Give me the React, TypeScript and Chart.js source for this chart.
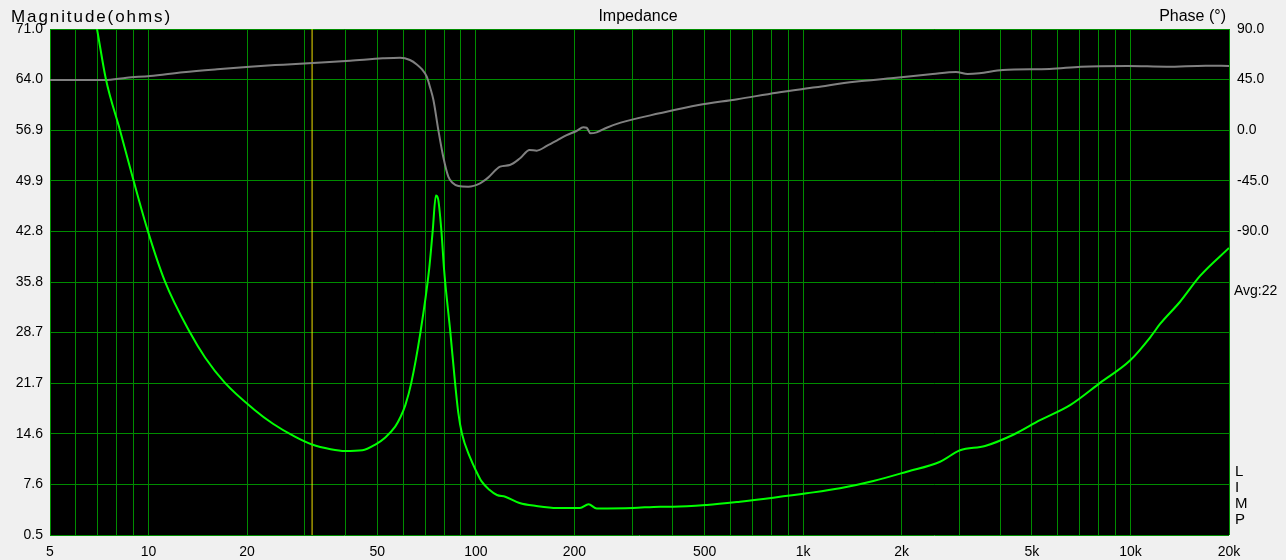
import React, { useEffect, useRef } from 'react';
import { Chart, registerables } from 'chart.js';

Chart.register(...registerables);

// Impedance magnitude (ohms) vs frequency (Hz)
const magFreq = [
  6.7, 6.96, 7.41, 8.18, 8.96, 9.96, 11.23, 13.39, 14.9, 17.12, 21.0, 24.0, 28.0, 31.6, 36, 39.8, 45, 49.3,
  52.9, 56.7, 58.8, 60.9, 63.5, 67.7, 71.95, 73.8, 75.5, 76.7, 78.5, 80.0, 83.6, 86.4, 88.4, 90.7, 96, 100,
  104, 110, 116, 123, 136, 153, 177, 208, 221, 234, 302, 366, 401, 508, 641, 811, 1025, 1296, 1639, 2073,
  2620, 3015, 3595, 4400, 5293, 6540, 8075, 9966, 11560, 12315, 14174, 16317, 20000,
];
const magOhms = [
  75, 71.0, 64.0, 56.9, 50.2, 42.8, 35.8, 28.7, 25.2, 21.7, 18.0, 16.0, 14.2, 13.1, 12.45, 12.2, 12.3, 13.1,
  14.1, 15.6, 16.9, 18.6, 21.7, 28.7, 37.4, 42.8, 47.8, 47.3, 42.8, 37.4, 28.7, 21.7, 17.5, 14.6, 11.3, 9.5,
  8.0, 6.8, 6.07, 5.84, 4.96, 4.54, 4.26, 4.26, 4.78, 4.2, 4.26, 4.45, 4.44, 4.68, 5.14, 5.7, 6.31, 7.01, 8.02, 9.32,
  10.71, 12.3, 12.9, 14.5, 16.5, 18.6, 21.7, 24.8, 28.2, 29.9, 33.0, 36.6, 40.5,
];

// Phase (degrees) vs frequency (Hz)
const phaseFreq = [
  5, 7.36, 8.58, 10.1, 12.75, 16.2, 20.4, 25.8, 32.7, 41.3, 52.0, 58.7, 62.9, 66, 68.5, 70.8, 72.5, 74.2,
  76.8, 79.5, 82.4, 85, 88.4, 94.8, 103, 109, 118.6, 127, 136.5, 146, 153.5, 164.7, 176.6, 189.5, 203, 213,
  218, 224, 234, 251, 277, 364, 479, 630, 830, 1092, 1436, 1890, 2487, 2932, 3182, 3455, 4074, 5664, 7054,
  9800, 12900, 16970, 20000,
];
const phaseDeg = [
  44.6, 44.6, 46.7, 48.2, 51.5, 54.2, 56.5, 58.3, 60.0, 61.8, 63.9, 64.5, 62.4, 58.5, 54, 47.6, 38, 26.9,
  0.2, -23.6, -41.3, -47, -49.6, -50.2, -47.2, -42.2, -32.4, -30.9, -25.0, -17.6, -18.2, -14.0, -9.3, -4.3, -0.7, 2.6,
  2.2, -2.8, -1.9, 2.2, 6.7, 15.0, 22.4, 27.5, 33.4, 38.2, 43.1, 46.4, 50.0, 51.8, 50.0, 50.6, 53.5, 54.4, 56.5,
  57.1, 56.5, 57.4, 57.1,
];

const markerFreq = 31.6;

const xTickValues = [
  5, 6, 7, 8, 9, 10, 20, 30, 40, 50, 60, 70, 80, 90, 100, 200, 300, 400, 500, 600, 700, 800, 900,
  1000, 2000, 3000, 4000, 5000, 6000, 7000, 8000, 9000, 10000, 20000,
];
const xTickLabels: Record<number, string> = {
  5: '5', 10: '10', 20: '20', 50: '50', 100: '100', 200: '200', 500: '500',
  1000: '1k', 2000: '2k', 5000: '5k', 10000: '10k', 20000: '20k',
};
const magTickValues = [0.5, 7.55, 14.6, 21.65, 28.7, 35.75, 42.8, 49.85, 56.9, 63.95, 71.0];
const magTickLabels = ['0.5', '7.6', '14.6', '21.7', '28.7', '35.8', '42.8', '49.9', '56.9', '64.0', '71.0'];
const phaseTickValues = [90, 45, 0, -45, -90];
const phaseTickLabels = ['90.0', '45.0', '0.0', '-45.0', '-90.0'];

const FONT = '"Liberation Sans", Arial, sans-serif';
const GRID = '#008c00';

export default function App() {
  const ref = useRef<HTMLCanvasElement | null>(null);

  useEffect(() => {
    document.body.style.margin = '0';
    const canvas = ref.current;
    if (!canvas) return;

    const bgPlugin = {
      id: 'bg',
      beforeDraw(chart: any) {
        const { ctx, chartArea } = chart;
        ctx.save();
        ctx.fillStyle = '#f0f0f0';
        ctx.fillRect(0, 0, chart.width, chart.height);
        ctx.fillStyle = '#000000';
        ctx.fillRect(chartArea.left, chartArea.top, chartArea.right - chartArea.left, chartArea.bottom - chartArea.top);
        ctx.restore();
      },
    };

    const textPlugin = {
      id: 'texts',
      afterDraw(chart: any) {
        const { ctx } = chart;
        ctx.save();
        ctx.fillStyle = '#000';
        ctx.textBaseline = 'middle';
        ctx.font = `17px ${FONT}`;
        const mag = 'Magnitude(ohms)';
        const w = ctx.measureText(mag).width;
        const sp = Math.max(0, (161 - w) / mag.length);
        (ctx as any).letterSpacing = `${sp}px`;
        ctx.textAlign = 'left';
        ctx.fillText(mag, 11, 17);
        (ctx as any).letterSpacing = '0px';
        ctx.font = `16px ${FONT}`;
        ctx.textAlign = 'center';
        ctx.fillText('Impedance', 638, 17);
        ctx.textAlign = 'right';
        ctx.fillText('Phase (°)', 1226, 17);
        ctx.font = `14px ${FONT}`;
        ctx.textAlign = 'left';
        ctx.fillText('Avg:22', 1234, 291);
        ctx.font = `15px ${FONT}`;
        const letters = ['L', 'I', 'M', 'P'];
        letters.forEach((l, i) => ctx.fillText(l, 1235, 472 + i * 16));
        ctx.restore();
      },
    };

    const chart = new Chart(canvas, {
      type: 'line',
      data: {
        datasets: [
          {
            label: 'Magnitude',
            data: magFreq.map((f, i) => ({ x: f, y: magOhms[i] })),
            borderColor: '#00ff00',
            borderWidth: 2,
            pointRadius: 0,
            cubicInterpolationMode: 'monotone',
            yAxisID: 'y',
            order: 0,
          },
          {
            label: 'Phase',
            data: phaseFreq.map((f, i) => ({ x: f, y: phaseDeg[i] })),
            borderColor: '#808080',
            borderWidth: 2,
            pointRadius: 0,
            cubicInterpolationMode: 'monotone',
            yAxisID: 'y2',
            order: 1,
          },
          {
            label: 'Marker',
            data: [
              { x: markerFreq, y: 0.5 },
              { x: markerFreq, y: 71 },
            ],
            borderColor: '#f0e000',
            borderWidth: 1,
            pointRadius: 0,
            yAxisID: 'y',
            order: 2,
          },
        ],
      },
      options: {
        responsive: false,
        animation: false,
        layout: { padding: { top: 29, left: 0, right: 0, bottom: 0 } },
        plugins: { legend: { display: false }, tooltip: { enabled: false }, title: { display: false } },
        scales: {
          x: {
            type: 'logarithmic',
            min: 5,
            max: 20000,
            afterBuildTicks: (s: any) => {
              s.ticks = xTickValues.map((v) => ({ value: v }));
            },
            afterFit: (s: any) => {
              s.height = 25;
            },
            ticks: {
              autoSkip: false,
              maxRotation: 0,
              minRotation: 0,
              padding: 9,
              color: '#000',
              font: { family: FONT, size: 14 },
              callback: (v: any) => xTickLabels[Number(v)] ?? '',
            },
            grid: { color: GRID, drawTicks: false, lineWidth: 1 },
            border: { display: false },
          },
          y: {
            position: 'left',
            min: 0.5,
            max: 71,
            afterBuildTicks: (s: any) => {
              s.ticks = magTickValues.map((v) => ({ value: v }));
            },
            afterFit: (s: any) => {
              s.width = 50;
            },
            ticks: {
              padding: 7,
              color: '#000',
              font: { family: FONT, size: 14 },
              callback: (_v: any, i: number) => magTickLabels[i],
            },
            grid: { color: GRID, drawTicks: false, lineWidth: 1 },
            border: { display: false },
          },
          y2: {
            position: 'right',
            min: -360,
            max: 90,
            afterBuildTicks: (s: any) => {
              s.ticks = phaseTickValues.map((v) => ({ value: v }));
            },
            afterFit: (s: any) => {
              s.width = 57;
            },
            ticks: {
              padding: 8,
              color: '#000',
              font: { family: FONT, size: 14 },
              callback: (_v: any, i: number) => phaseTickLabels[i],
            },
            grid: { display: false, drawTicks: false },
            border: { display: false },
          },
        },
      },
      plugins: [bgPlugin, textPlugin],
    } as any);

    return () => chart.destroy();
  }, []);

  return (
    <div style={{ position: 'fixed', left: 0, top: 0, width: 1286, height: 560, background: '#f0f0f0' }}>
      <canvas ref={ref} width={1286} height={560} style={{ display: 'block', width: 1286, height: 560 }} />
    </div>
  );
}
